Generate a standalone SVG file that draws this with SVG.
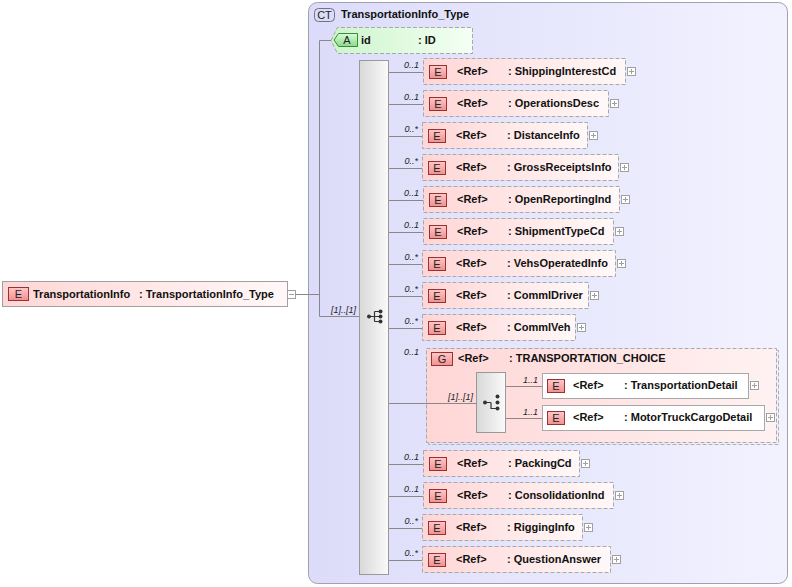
<svg xmlns="http://www.w3.org/2000/svg" width="792" height="587" viewBox="0 0 792 587">
<defs>
<linearGradient id="gCT" x1="0" y1="0" x2="1" y2="0"><stop offset="0" stop-color="#dcdcfa"/><stop offset="1" stop-color="#f2f2ff"/></linearGradient>
<linearGradient id="gEl" x1="0" y1="0" x2="1" y2="0"><stop offset="0" stop-color="#ffd6d6"/><stop offset="1" stop-color="#fff8f8"/></linearGradient>
<linearGradient id="gGrp" x1="0" y1="0" x2="1" y2="0"><stop offset="0" stop-color="#ffd6d6"/><stop offset="1" stop-color="#fff2f2"/></linearGradient>
<linearGradient id="gBadge" x1="0" y1="0" x2="0" y2="1"><stop offset="0" stop-color="#ffc8c8"/><stop offset="1" stop-color="#f09090"/></linearGradient>
<linearGradient id="gAttr" x1="0" y1="0" x2="1" y2="0"><stop offset="0" stop-color="#ccf5cc"/><stop offset="1" stop-color="#f4fff4"/></linearGradient>
<linearGradient id="gABadge" x1="0" y1="0" x2="0" y2="1"><stop offset="0" stop-color="#d8ffd8"/><stop offset="1" stop-color="#8cd88c"/></linearGradient>
<linearGradient id="gBar" x1="0" y1="0" x2="1" y2="0"><stop offset="0" stop-color="#d8d8d8"/><stop offset="1" stop-color="#fafafa"/></linearGradient>
</defs>
<style>
.t{font-family:"Liberation Sans",Arial,sans-serif;font-size:11px;font-weight:bold;fill:#111}
.b{font-family:"Liberation Sans",Arial,sans-serif;font-size:11px;fill:#222;text-anchor:middle}
.o{font-family:"Liberation Sans",Arial,sans-serif;font-size:9px;font-style:italic;fill:#222;text-anchor:end}
.box{fill:url(#gEl);stroke:#a8a8a8;stroke-dasharray:4,2}
.badge{fill:url(#gBadge);stroke:#9a3030}
.pm{fill:#fff;stroke:#a0a0a0}
.pl{stroke:#a0a0a0;fill:none}
.ln{stroke:#888;fill:none}
.bar{fill:url(#gBar);stroke:#999}
.dot{fill:#333}
.ic{stroke:#333;fill:none;stroke-width:1.2}
</style>

<g id="ct">
<rect x="308.5" y="2.5" width="479" height="581" rx="9" fill="url(#gCT)" stroke="#a0a0b0"/>
<rect x="314.5" y="8.5" width="20" height="13" rx="4" fill="#dcdcf6" stroke="#707090"/>
<text class="b" x="324.5" y="19">CT</text>
<text class="t" x="341" y="18">TransportationInfo_Type</text>
</g>

<g id="root">
<rect x="2.5" y="281.5" width="285" height="25" fill="url(#gEl)" stroke="#a0a0a0"/>
<rect x="8.5" y="287.5" width="20" height="13" class="badge"/>
<text class="b" x="18.5" y="298">E</text>
<text class="t" x="33" y="298">TransportationInfo</text>
<text class="t" x="139" y="298">: TransportationInfo_Type</text>
<rect x="287.5" y="290.5" width="8" height="8" class="pm"/>
<path class="pl" d="M289 294.5H294"/>
</g>

<g id="attr-id">
<path d="M331 40.5L337.5 27.5H472.5V53.5H337.5Z" fill="url(#gAttr)" stroke="#a8a8a8" stroke-dasharray="4,2"/>
<path d="M334 40L338.5 33.5H357.5V46.5H338.5Z" fill="url(#gABadge)" stroke="#3a8a3a"/>
<text class="b" x="347" y="44">A</text>
<text class="t" x="361" y="44">id</text>
<text class="t" x="418" y="44">: ID</text>
</g>

<g id="seq">
<rect x="359.5" y="60.5" width="29" height="514" class="bar"/>
<path class="ic" d="M369 316.5H374.5M374.5 311.5V321.5M374.5 311.5H380M374.5 316.5H380M374.5 321.5H380"/>
<circle class="dot" cx="369" cy="316.5" r="2"/>
<circle class="dot" cx="380.5" cy="311.5" r="2"/>
<circle class="dot" cx="380.5" cy="316.5" r="2"/>
<circle class="dot" cx="380.5" cy="321.5" r="2"/>
</g>

<g id="e-ShippingInterestCd">
<rect x="423.5" y="58.5" width="202" height="26" class="box"/>
<rect x="429.5" y="65.5" width="17" height="13" class="badge"/><text class="b" x="438" y="76">E</text>
<text class="t" x="457" y="75">&lt;Ref&gt;</text><text class="t" x="508" y="75">: ShippingInterestCd</text>
<rect x="627.5" y="67.5" width="8" height="8" class="pm"/><path class="pl" d="M629 71.5H634M631.5 69V74"/>
</g>
<g id="e-OperationsDesc">
<rect x="423.5" y="90.5" width="185" height="26" class="box"/>
<rect x="429.5" y="97.5" width="17" height="13" class="badge"/><text class="b" x="438" y="108">E</text>
<text class="t" x="457" y="107">&lt;Ref&gt;</text><text class="t" x="508" y="107">: OperationsDesc</text>
<rect x="610.5" y="99.5" width="8" height="8" class="pm"/><path class="pl" d="M612 103.5H617M614.5 101V106"/>
</g>
<g id="e-DistanceInfo">
<rect x="422.5" y="122.5" width="165" height="26" class="box"/>
<rect x="428.5" y="129.5" width="17" height="13" class="badge"/><text class="b" x="437" y="140">E</text>
<text class="t" x="456" y="139">&lt;Ref&gt;</text><text class="t" x="507" y="139">: DistanceInfo</text>
<rect x="589.5" y="131.5" width="8" height="8" class="pm"/><path class="pl" d="M591 135.5H596M593.5 133V138"/>
</g>
<g id="e-GrossReceiptsInfo">
<rect x="422.5" y="154.5" width="196" height="26" class="box"/>
<rect x="428.5" y="161.5" width="17" height="13" class="badge"/><text class="b" x="437" y="172">E</text>
<text class="t" x="456" y="171">&lt;Ref&gt;</text><text class="t" x="507" y="171">: GrossReceiptsInfo</text>
<rect x="620.5" y="163.5" width="8" height="8" class="pm"/><path class="pl" d="M622 167.5H627M624.5 165V170"/>
</g>
<g id="e-OpenReportingInd">
<rect x="423.5" y="186.5" width="196" height="26" class="box"/>
<rect x="429.5" y="193.5" width="17" height="13" class="badge"/><text class="b" x="438" y="204">E</text>
<text class="t" x="457" y="203">&lt;Ref&gt;</text><text class="t" x="508" y="203">: OpenReportingInd</text>
<rect x="621.5" y="195.5" width="8" height="8" class="pm"/><path class="pl" d="M623 199.5H628M625.5 197V202"/>
</g>
<g id="e-ShipmentTypeCd">
<rect x="423.5" y="218.5" width="190" height="26" class="box"/>
<rect x="429.5" y="225.5" width="17" height="13" class="badge"/><text class="b" x="438" y="236">E</text>
<text class="t" x="457" y="235">&lt;Ref&gt;</text><text class="t" x="508" y="235">: ShipmentTypeCd</text>
<rect x="615.5" y="227.5" width="8" height="8" class="pm"/><path class="pl" d="M617 231.5H622M619.5 229V234"/>
</g>
<g id="e-VehsOperatedInfo">
<rect x="422.5" y="250.5" width="193" height="26" class="box"/>
<rect x="428.5" y="257.5" width="17" height="13" class="badge"/><text class="b" x="437" y="268">E</text>
<text class="t" x="456" y="267">&lt;Ref&gt;</text><text class="t" x="507" y="267">: VehsOperatedInfo</text>
<rect x="617.5" y="259.5" width="8" height="8" class="pm"/><path class="pl" d="M619 263.5H624M621.5 261V266"/>
</g>
<g id="e-CommlDriver">
<rect x="422.5" y="282.5" width="166" height="26" class="box"/>
<rect x="428.5" y="289.5" width="17" height="13" class="badge"/><text class="b" x="437" y="300">E</text>
<text class="t" x="456" y="299">&lt;Ref&gt;</text><text class="t" x="507" y="299">: CommlDriver</text>
<rect x="590.5" y="291.5" width="8" height="8" class="pm"/><path class="pl" d="M592 295.5H597M594.5 293V298"/>
</g>
<g id="e-CommlVeh">
<rect x="422.5" y="314.5" width="153" height="26" class="box"/>
<rect x="428.5" y="321.5" width="17" height="13" class="badge"/><text class="b" x="437" y="332">E</text>
<text class="t" x="456" y="331">&lt;Ref&gt;</text><text class="t" x="507" y="331">: CommlVeh</text>
<rect x="577.5" y="323.5" width="8" height="8" class="pm"/><path class="pl" d="M579 327.5H584M581.5 325V330"/>
</g>

<g id="g-TRANSPORTATION_CHOICE">
<rect x="428.5" y="350.5" width="350" height="94" fill="none" stroke="#b0b0b0" stroke-dasharray="4,2"/>
<rect x="426.5" y="348.5" width="350" height="94" fill="url(#gGrp)" stroke="#a8a8a8" stroke-dasharray="4,2"/>
<rect x="431.5" y="352.5" width="21" height="13" class="badge"/><text class="b" x="442" y="363">G</text>
<text class="t" x="458" y="362">&lt;Ref&gt;</text><text class="t" x="509" y="362">: TRANSPORTATION_CHOICE</text>
<rect x="476.5" y="372.5" width="29" height="60" class="bar"/>
<path class="ic" d="M485 402.5H491M491 402.5V408.5H497"/>
<circle class="dot" cx="485" cy="402.5" r="2"/>
<circle class="dot" cx="497.5" cy="396.5" r="2"/>
<circle class="dot" cx="497.5" cy="402.5" r="2"/>
<circle class="dot" cx="497.5" cy="408.5" r="2"/>
</g>
<g id="e-TransportationDetail">
<rect x="542.5" y="373.5" width="206" height="25" fill="#fff" stroke="#a8a8a8"/>
<rect x="547.5" y="379.5" width="17" height="13" class="badge"/><text class="b" x="556" y="390">E</text>
<text class="t" x="573" y="389">&lt;Ref&gt;</text><text class="t" x="624" y="389">: TransportationDetail</text>
<rect x="750.5" y="381.5" width="8" height="8" class="pm"/><path class="pl" d="M752 385.5H757M754.5 383V388"/>
</g>
<g id="e-MotorTruckCargoDetail">
<rect x="542.5" y="405.5" width="222" height="25" fill="#fff" stroke="#a8a8a8"/>
<rect x="547.5" y="411.5" width="17" height="13" class="badge"/><text class="b" x="556" y="422">E</text>
<text class="t" x="573" y="421">&lt;Ref&gt;</text><text class="t" x="624" y="421">: MotorTruckCargoDetail</text>
<rect x="766.5" y="413.5" width="8" height="8" class="pm"/><path class="pl" d="M768 417.5H773M770.5 415V420"/>
</g>

<g id="e-PackingCd">
<rect x="423.5" y="450.5" width="156" height="26" class="box"/>
<rect x="429.5" y="457.5" width="17" height="13" class="badge"/><text class="b" x="438" y="468">E</text>
<text class="t" x="457" y="467">&lt;Ref&gt;</text><text class="t" x="508" y="467">: PackingCd</text>
<rect x="581.5" y="459.5" width="8" height="8" class="pm"/><path class="pl" d="M583 463.5H588M585.5 461V466"/>
</g>
<g id="e-ConsolidationInd">
<rect x="423.5" y="482.5" width="190" height="26" class="box"/>
<rect x="429.5" y="489.5" width="17" height="13" class="badge"/><text class="b" x="438" y="500">E</text>
<text class="t" x="457" y="499">&lt;Ref&gt;</text><text class="t" x="508" y="499">: ConsolidationInd</text>
<rect x="615.5" y="491.5" width="8" height="8" class="pm"/><path class="pl" d="M617 495.5H622M619.5 493V498"/>
</g>
<g id="e-RiggingInfo">
<rect x="422.5" y="514.5" width="160" height="26" class="box"/>
<rect x="428.5" y="521.5" width="17" height="13" class="badge"/><text class="b" x="437" y="532">E</text>
<text class="t" x="456" y="531">&lt;Ref&gt;</text><text class="t" x="507" y="531">: RiggingInfo</text>
<rect x="584.5" y="523.5" width="8" height="8" class="pm"/><path class="pl" d="M586 527.5H591M588.5 525V530"/>
</g>
<g id="e-QuestionAnswer">
<rect x="422.5" y="546.5" width="188" height="26" class="box"/>
<rect x="428.5" y="553.5" width="17" height="13" class="badge"/><text class="b" x="437" y="564">E</text>
<text class="t" x="456" y="563">&lt;Ref&gt;</text><text class="t" x="507" y="563">: QuestionAnswer</text>
<rect x="612.5" y="555.5" width="8" height="8" class="pm"/><path class="pl" d="M614 559.5H619M616.5 557V562"/>
</g>

<g id="connectors">
<path class="ln" d="M295.5 294.5H319.5M319.5 40.5V316.5H359M319.5 40.5H331"/>
<text class="o" x="356" y="313">[1]..[1]</text>
<path class="ln" d="M389 72.5H423M389 104.5H423M389 136.5H422M389 168.5H422M389 200.5H423M389 232.5H423M389 264.5H422M389 296.5H422M389 328.5H422M389 403.5H476M389 464.5H423M389 496.5H423M389 528.5H422M389 560.5H422M506 386.5H542M506 418.5H542"/>
<text class="o" x="419" y="68">0..1</text>
<text class="o" x="419" y="100">0..1</text>
<text class="o" x="418" y="132">0..*</text>
<text class="o" x="418" y="164">0..*</text>
<text class="o" x="419" y="196">0..1</text>
<text class="o" x="419" y="228">0..1</text>
<text class="o" x="418" y="260">0..*</text>
<text class="o" x="418" y="292">0..*</text>
<text class="o" x="418" y="324">0..*</text>
<text class="o" x="419" y="355">0..1</text>
<text class="o" x="473" y="400">[1]..[1]</text>
<text class="o" x="538" y="383">1..1</text>
<text class="o" x="538" y="415">1..1</text>
<text class="o" x="419" y="460">0..1</text>
<text class="o" x="419" y="492">0..1</text>
<text class="o" x="418" y="524">0..*</text>
<text class="o" x="418" y="556">0..*</text>
</g>
</svg>
